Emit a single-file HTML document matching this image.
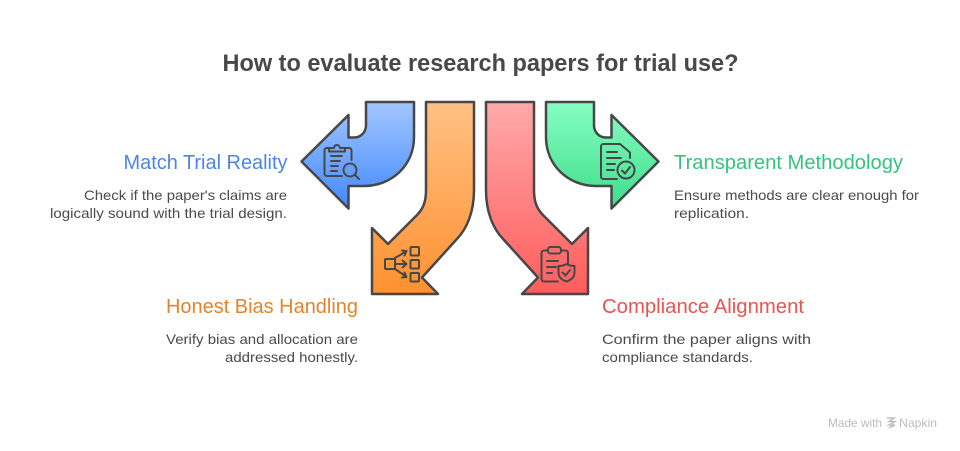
<!DOCTYPE html>
<html><head><meta charset="utf-8"><style>
html,body{margin:0;padding:0;background:#fff;width:960px;height:451px;overflow:hidden}
svg{display:block}
text{font-family:"Liberation Sans",sans-serif}
.d{font-size:14px;fill:#4a4a4a}
.h{font-size:20px}
.i{fill:none;stroke:#474747;stroke-width:2;stroke-linecap:round;stroke-linejoin:round}
</style></head><body>
<svg width="960" height="451" viewBox="0 0 960 451" xmlns="http://www.w3.org/2000/svg">
<defs>
<linearGradient id="b" x1="0" y1="0" x2="0" y2="1"><stop offset="0" stop-color="#a3c6ff"/><stop offset="1" stop-color="#4289ff"/></linearGradient>
<linearGradient id="o" x1="0" y1="0" x2="0" y2="1"><stop offset="0" stop-color="#ffc184"/><stop offset="1" stop-color="#ff9130"/></linearGradient>
<linearGradient id="r" x1="0" y1="0" x2="0" y2="1"><stop offset="0" stop-color="#ffa9a9"/><stop offset="1" stop-color="#ff5c5c"/></linearGradient>
<linearGradient id="g" x1="0" y1="0" x2="0" y2="1"><stop offset="0" stop-color="#86ffc2"/><stop offset="1" stop-color="#40dd8c"/></linearGradient>
</defs>
<rect width="960" height="451" fill="#fff"/>
<text x="480.500" y="71" text-anchor="middle" font-size="24" font-weight="700" fill="#484848" textLength="516" lengthAdjust="spacingAndGlyphs">How to evaluate research papers for trial use?</text>

<g stroke="#474747" stroke-width="2.500" stroke-linejoin="round">
<path fill="url(#b)" d="M366 102H414V137C414 166 391 186 364 186H348.500V208.500L301.500 161.500L348.500 115V137.500H354C361 137.500 366 132 366 125Z"/>
<path fill="url(#o)" d="M426 102H474V190C474 212 467 229 456 240L422 277.500L438 294H372V228L388 244L417 215C423 209 426 202 426 190Z"/>
<path fill="url(#r)" d="M534 102H486V190C486 212 493 229 504 240L538 277.500L522 294H588V228L572 244L543 215C537 209 534 202 534 190Z"/>
<path fill="url(#g)" d="M594 102H546V137C546 166 569 186 596 186H611.500V208.500L658.500 161.500L611.500 115V137.500H606C599 137.500 594 132 594 125Z"/>
</g>

<!-- blue icon -->
<g class="i">
<path d="M329 148H327C325.500 148 324.500 149 324.500 150.500V173.500C324.500 175 325.500 176 327 176H342"/>
<path d="M329 148H334C334.500 144 339 144 340 148H345V151.500H329Z"/>
<path d="M345 148H349C350.500 148 351.500 149 351.500 150.500V160"/>
<path d="M331 156H342M331 161H340M331 166H338M331 171H337"/>
<circle cx="350" cy="170" r="6.500"/>
<path d="M354.500 174.500L359 179"/>
</g>
<!-- orange icon -->
<g class="i">
<rect x="385" y="259" width="10" height="10" rx="1"/>
<rect x="410.500" y="247" width="8.500" height="8.500" rx="1"/>
<rect x="410.500" y="260" width="8.500" height="8.500" rx="1"/>
<rect x="410.500" y="273" width="8.500" height="8.500" rx="1"/>
<path d="M395 258L406 251.500M402 250.500L406.500 251L404.500 255.500"/>
<path d="M395 264H406M402.500 260.500L406.500 264L402.500 267.500"/>
<path d="M395 269L406 276.500M404.500 272.500L406.500 277L402 277.500"/>
</g>
<!-- red icon -->
<g class="i">
<path d="M548 250.500H544C542.500 250.500 541.500 251.500 541.500 253V279C541.500 280.500 542.500 281.500 544 281.500H558"/>
<path d="M561 250.500H565.500C567 250.500 568 251.500 568 253V263"/>
<rect x="548" y="247" width="13" height="6.500" rx="2.500"/>
<path d="M547 261H558M547 267H556M547 273H552"/>
<path d="M558.500 266C562 266 564 265.500 566.500 264C569 265.500 571 266 574.500 266V272.500C574.500 277 571 280 566.500 281.500C562 280 558.500 277 558.500 272.500Z"/>
<path d="M562.500 272.500L565.500 275.500L570 270"/>
</g>
<!-- green icon -->
<g class="i">
<path d="M617 179H603.500C602 179 601 178 601 176.500V146.500C601 145 602 144 603.500 144H620L630 152.500V158"/>
<path d="M607 152H617M607 158H621M607 164H615M607 170H614"/>
<circle cx="626" cy="170" r="8.500"/>
<path d="M622 170.500L625 173.500L630 167"/>
</g>

<text class="h" x="287.500" y="169" text-anchor="end" fill="#4a86e8" textLength="164" lengthAdjust="spacingAndGlyphs">Match Trial Reality</text>
<text class="d" x="287" y="200" text-anchor="end" textLength="203" lengthAdjust="spacingAndGlyphs">Check if the paper's claims are</text>
<text class="d" x="287" y="218" text-anchor="end" textLength="237" lengthAdjust="spacingAndGlyphs">logically sound with the trial design.</text>

<text class="h" x="674" y="169" fill="#35c37f" textLength="229" lengthAdjust="spacingAndGlyphs">Transparent Methodology</text>
<text class="d" x="674" y="200" textLength="245" lengthAdjust="spacingAndGlyphs">Ensure methods are clear enough for</text>
<text class="d" x="674" y="218" textLength="75" lengthAdjust="spacingAndGlyphs">replication.</text>

<text class="h" x="358" y="313" text-anchor="end" fill="#e2842c" textLength="192" lengthAdjust="spacingAndGlyphs">Honest Bias Handling</text>
<text class="d" x="358" y="344" text-anchor="end" textLength="192" lengthAdjust="spacingAndGlyphs">Verify bias and allocation are</text>
<text class="d" x="358" y="362" text-anchor="end" textLength="133" lengthAdjust="spacingAndGlyphs">addressed honestly.</text>

<text class="h" x="602" y="313" fill="#e8544f" textLength="202" lengthAdjust="spacingAndGlyphs">Compliance Alignment</text>
<text class="d" x="602" y="344" textLength="209" lengthAdjust="spacingAndGlyphs">Confirm the paper aligns with</text>
<text class="d" x="602" y="362" textLength="151" lengthAdjust="spacingAndGlyphs">compliance standards.</text>

<text x="828" y="427" font-size="12" fill="#bdbdbd" textLength="54" lengthAdjust="spacingAndGlyphs">Made with</text>
<path d="M887 418H894L889 421.500H895L889 425H895L889 428" fill="none" stroke="#bdbdbd" stroke-width="1.500"/>
<text x="899" y="427" font-size="12" fill="#bdbdbd" textLength="38" lengthAdjust="spacingAndGlyphs">Napkin</text>
</svg>
</body></html>
